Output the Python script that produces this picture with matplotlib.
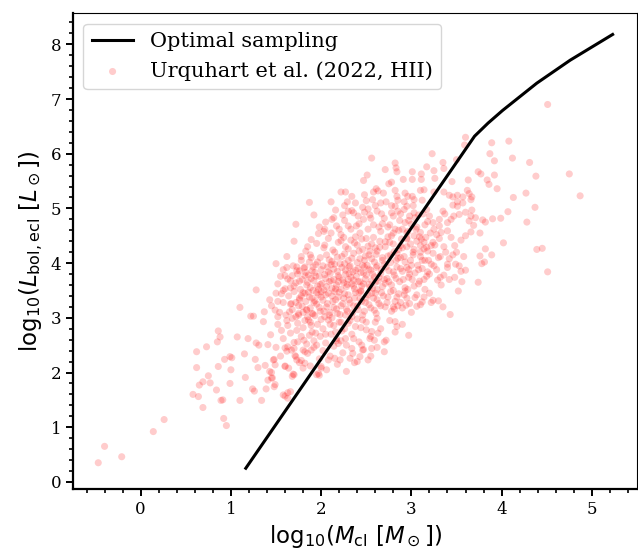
import numpy as np
import matplotlib
matplotlib.use("Agg")
import matplotlib.pyplot as plt
from matplotlib.ticker import MultipleLocator

plt.rcParams['font.family'] = 'serif'
plt.rcParams['mathtext.fontset'] = 'dejavusans'

# Optimal sampling relation
opt_m = [1.165, 3.70, 3.85, 4.01, 4.39, 4.76, 5.23]
opt_l = [0.25, 6.32, 6.56, 6.79, 7.29, 7.71, 8.18]

# Urquhart et al. (2022) HII clumps: (log M_cl, log L_bol)
urquhart_pts = [
    # sparse low-mass tail
    (-0.47, 0.35), (-0.40, 0.65), (-0.21, 0.46), (0.14, 0.92), (0.26, 1.14),
    (0.58, 1.60), (0.64, 1.56), (0.62, 2.38), (0.62, 2.09), (0.65, 1.77), (0.69, 1.83),
    (0.69, 1.36), (0.73, 2.47), (0.75, 1.94), (0.77, 1.81), (0.84, 1.68), (0.86, 2.11),
    (0.86, 2.76), (0.88, 2.65), (0.85, 2.56), (0.89, 1.49), (0.91, 1.50), (0.92, 1.16),
    (0.95, 1.03), (0.93, 2.24), (0.99, 2.29), (1.01, 2.27), (1.00, 2.05), (0.99, 1.80),
    (1.07, 2.65), (1.10, 3.19), (1.10, 1.49), (1.15, 2.34), (1.16, 1.91), (1.19, 2.62),
    (1.22, 3.03), (1.25, 3.03), (1.24, 1.70), (1.26, 1.66), (1.27, 2.24), (1.28, 3.51),
    (1.28, 2.54), (1.30, 2.09), (1.31, 2.50), (1.34, 1.49), (1.36, 2.93), (1.37, 3.11),
    (1.38, 2.13), (1.41, 2.51), (1.41, 1.86), (1.43, 3.33), (1.44, 2.69), (1.45, 2.00),
    (1.46, 1.90), (1.39, 1.70), (1.48, 1.74), (1.49, 3.14), (1.50, 2.46), (1.48, 2.24),
    (1.52, 3.30), (1.52, 3.02), (1.58, 1.59), (1.60, 2.12), (1.63, 1.53), (1.66, 1.65),
    (1.69, 1.97), (1.62, 2.39), (1.56, 2.77), (1.56, 3.44), (1.60, 3.53), (1.63, 2.86),
    (1.65, 3.11), (1.67, 3.26), (1.71, 2.31), (1.73, 2.77), (1.74, 2.56), (1.75, 3.08),
    (1.76, 3.36), (1.78, 2.22), (1.81, 2.59), (1.82, 2.95), (1.84, 3.14), (1.85, 2.35),
    (1.87, 2.68), (1.89, 2.86), (1.91, 3.07), (1.93, 3.31), (1.95, 2.50), (1.97, 1.98),
    (1.47, 2.23), (1.49, 2.14), (1.43, 2.02), (1.45, 1.90), (1.49, 1.78), (1.60, 2.11),
    (1.70, 1.96), (1.68, 1.93), (1.60, 1.57), (1.63, 1.63), (1.72, 2.29), (1.73, 2.23),
    (1.67, 2.41), (1.63, 2.47), (1.80, 2.08), (1.82, 2.17), (1.95, 1.96), (1.80, 2.41),
    (1.89, 2.41),
    # upper-left edge
    (1.87, 5.11), (1.92, 4.88), (1.72, 4.71), (1.89, 4.43), (1.85, 4.30), (1.50, 3.99),
    (1.73, 3.93), (1.76, 3.86), (1.82, 3.93), (1.89, 4.10), (1.91, 3.93), (1.97, 4.54),
    (1.60, 3.77), (1.68, 3.77), (1.82, 3.77),
    # upper part
    (2.56, 5.92), (2.71, 5.71), (2.51, 5.61), (2.47, 5.51), (2.61, 5.36), (2.63, 5.32),
    (2.22, 5.30), (2.27, 5.30), (2.48, 5.25), (2.69, 5.28), (2.29, 5.12), (2.38, 5.10),
    (2.11, 5.12), (2.50, 5.14), (2.57, 5.16), (2.30, 4.95), (2.34, 4.96), (2.48, 4.93),
    (2.17, 4.68), (2.39, 4.68), (2.47, 4.80), (2.54, 4.88), (2.04, 4.62), (2.03, 4.58),
    (2.11, 4.55), (2.22, 4.52), (2.75, 5.45), (2.85, 5.15), (2.78, 5.05), (2.66, 5.10),
    # y 4.5 - 5.0
    (2.05, 4.75), (2.14, 4.83), (2.26, 4.78), (2.33, 4.62), (2.41, 4.86), (2.58, 4.70),
    (2.62, 4.95), (2.66, 4.58), (2.70, 4.82), (2.74, 4.66), (2.78, 4.92), (2.80, 4.55),
    (2.87, 4.78), (2.92, 4.98), (3.06, 4.66), (3.13, 4.90), (3.28, 4.52), (3.37, 4.90),
    (2.16, 4.97), (2.43, 4.55), (2.52, 4.99), (2.68, 4.72), (2.96, 4.58), (1.98, 4.66),
    (2.24, 4.88),
    (2.30, 4.68), (2.36, 4.92), (2.42, 4.72), (2.46, 5.02), (2.52, 4.62), (2.55, 4.82),
    (2.60, 5.05), (2.64, 4.66), (2.67, 4.90), (2.72, 5.12), (2.76, 4.70), (2.80, 4.86),
    (2.84, 5.22), (2.88, 4.90), (2.92, 5.12), (2.97, 4.78), (3.02, 5.05), (3.08, 4.88),
    (3.12, 5.15), (3.18, 4.76), (2.20, 4.62), (2.12, 4.80), (2.26, 5.05), (2.34, 5.22),
    (2.58, 5.30),
    # y 4.0 - 4.5
    (1.62, 4.12), (1.70, 4.40), (1.78, 4.05), (1.83, 4.22), (1.95, 4.36), (1.99, 4.10),
    (2.03, 4.28), (2.08, 4.45), (2.12, 4.03), (2.15, 4.20), (2.19, 4.38), (2.23, 4.12),
    (2.27, 4.30), (2.30, 4.05), (2.33, 4.42), (2.36, 4.18), (2.40, 4.33), (2.43, 4.08),
    (2.46, 4.25), (2.50, 4.45), (2.53, 4.15), (2.56, 4.35), (2.59, 4.02), (2.62, 4.22),
    (2.65, 4.40), (2.68, 4.10), (2.71, 4.30), (2.74, 4.48), (2.77, 4.15), (2.80, 4.35),
    (2.83, 4.05), (2.86, 4.25), (2.89, 4.44), (2.92, 4.12), (2.95, 4.30), (2.99, 4.05),
    (3.02, 4.20), (3.06, 4.40), (3.10, 4.12), (3.14, 4.26), (3.19, 4.05), (3.24, 4.18),
    (3.30, 4.10), (3.36, 4.30), (3.42, 4.08), (3.50, 4.20), (3.58, 4.12), (2.06, 4.15),
    (2.25, 4.47), (2.48, 4.05), (2.60, 4.28), (2.76, 4.38), (2.95, 4.46), (3.16, 4.47),
    (1.88, 4.15), (2.38, 4.48), (2.54, 4.22), (2.84, 4.18),
    # y 3.5 - 4.5, second layer of the dense core
    (1.93, 3.83), (1.96, 4.02), (1.99, 3.61), (2.02, 3.95), (2.04, 4.33), (2.06, 3.57),
    (2.08, 3.84), (2.09, 4.06), (2.11, 3.68), (2.13, 4.24), (2.14, 3.89), (2.16, 3.53),
    (2.18, 4.11), (2.19, 3.77), (2.21, 3.99), (2.22, 4.41), (2.24, 3.69), (2.26, 4.17),
    (2.27, 3.87), (2.29, 3.61), (2.30, 4.26), (2.31, 3.93), (2.33, 3.74), (2.34, 4.09),
    (2.36, 3.58), (2.37, 4.37), (2.38, 3.87), (2.40, 4.01), (2.41, 3.66), (2.42, 4.22),
    (2.44, 3.83), (2.45, 4.44), (2.46, 3.96), (2.47, 3.62), (2.49, 4.13), (2.50, 3.78),
    (2.52, 4.31), (2.53, 3.89), (2.54, 3.56), (2.56, 4.08), (2.57, 3.80), (2.58, 4.47),
    (2.60, 3.65), (2.61, 4.16), (2.62, 3.95), (2.64, 3.74), (2.65, 4.29), (2.67, 3.88),
    (2.68, 4.05), (2.70, 3.70), (2.71, 4.39), (2.72, 3.93), (2.74, 4.13), (2.75, 3.66),
    (2.77, 4.01), (2.78, 4.50), (2.80, 3.84), (2.81, 4.21), (2.83, 3.72), (2.85, 4.09),
    (2.86, 4.60), (2.88, 3.90), (2.90, 4.28), (2.91, 3.70), (2.93, 4.02), (2.95, 4.55),
    (2.97, 3.88), (2.99, 4.35), (3.01, 3.70), (3.03, 4.25), (3.05, 4.62), (3.07, 3.96),
    (3.09, 4.48), (3.12, 4.05), (3.15, 4.70), (3.18, 4.22), (3.21, 4.55), (3.26, 4.33),
    (3.31, 4.45), (3.38, 4.20),
    (1.70, 3.58), (1.73, 3.86), (1.76, 3.67), (1.78, 4.12), (1.80, 3.46), (1.83, 3.83),
    (1.85, 3.65), (1.87, 4.02), (1.89, 3.72), (1.91, 3.50), (1.94, 3.76), (1.58, 3.50),
    (1.62, 3.92), (1.66, 3.68), (1.55, 3.76),
    # y 3.5 - 4.0 (densest)
    (1.52, 3.62), (1.58, 3.88), (1.63, 3.71), (1.66, 3.55), (1.69, 3.95), (1.72, 3.64),
    (1.74, 3.80), (1.77, 3.52), (1.79, 3.70), (1.81, 3.91), (1.84, 3.60), (1.86, 3.78),
    (1.88, 3.55), (1.90, 3.86), (1.92, 3.68), (1.94, 3.97), (1.96, 3.58), (1.98, 3.76),
    (2.00, 3.88), (2.01, 3.63), (2.03, 3.51), (2.05, 3.72), (2.07, 3.93), (2.09, 3.66),
    (2.10, 3.81), (2.12, 3.54), (2.14, 3.70), (2.15, 3.98), (2.17, 3.60), (2.18, 3.85),
    (2.20, 3.74), (2.22, 3.52), (2.23, 3.92), (2.25, 3.64), (2.27, 3.80), (2.28, 3.57),
    (2.30, 3.70), (2.32, 3.95), (2.34, 3.62), (2.35, 3.84), (2.37, 3.53), (2.39, 3.76),
    (2.41, 3.90), (2.43, 3.66), (2.45, 3.58), (2.47, 3.82), (2.49, 3.71), (2.51, 3.96),
    (2.53, 3.61), (2.55, 3.87), (2.57, 3.54), (2.59, 3.75), (2.61, 3.92), (2.63, 3.67),
    (2.66, 3.81), (2.68, 3.57), (2.70, 3.98), (2.73, 3.72), (2.75, 3.86), (2.78, 3.60),
    (2.81, 3.78), (2.84, 3.93), (2.87, 3.66), (2.90, 3.85), (2.93, 3.55), (2.97, 3.74),
    (3.00, 3.96), (3.04, 3.82), (3.08, 3.62), (3.12, 3.90), (3.18, 3.84), (3.22, 3.98),
    (3.28, 3.88), (3.40, 3.92), (3.55, 3.85), (1.97, 3.52), (2.11, 3.97), (2.26, 3.99),
    (2.44, 3.50), (2.62, 3.52), (2.80, 3.50), (2.19, 3.66), (2.36, 3.69), (2.56, 3.68),
    (2.04, 3.79), (2.31, 3.81), (2.48, 3.93), (2.71, 3.63),
    # y 3.0 - 3.5
    (1.45, 3.22), (1.50, 3.45), (1.54, 3.10), (1.58, 3.28), (1.61, 3.05), (1.64, 3.40),
    (1.68, 3.15), (1.70, 3.48), (1.72, 3.02), (1.75, 3.22), (1.78, 3.40), (1.80, 3.10),
    (1.83, 3.30), (1.86, 3.47), (1.88, 3.18), (1.90, 3.36), (1.93, 3.04), (1.95, 3.25),
    (1.97, 3.42), (1.99, 3.12), (2.02, 3.32), (2.04, 3.02), (2.06, 3.20), (2.08, 3.45),
    (2.10, 3.10), (2.13, 3.30), (2.15, 3.48), (2.17, 3.16), (2.19, 3.38), (2.21, 3.06),
    (2.24, 3.26), (2.26, 3.44), (2.29, 3.12), (2.31, 3.33), (2.34, 3.02), (2.36, 3.22),
    (2.38, 3.46), (2.41, 3.15), (2.43, 3.35), (2.46, 3.05), (2.49, 3.28), (2.52, 3.42),
    (2.55, 3.18), (2.58, 3.36), (2.61, 3.08), (2.64, 3.26), (2.67, 3.46), (2.71, 3.20),
    (2.74, 3.38), (2.78, 3.12), (2.82, 3.30), (2.86, 3.44), (2.90, 3.18), (2.95, 3.36),
    (3.00, 3.10), (3.06, 3.42), (3.14, 3.38), (3.20, 3.45), (3.35, 3.20), (1.85, 3.02),
    (2.00, 3.48), (2.12, 3.00), (2.27, 3.05), (2.44, 3.48), (2.60, 3.45), (1.66, 3.25),
    (1.76, 3.33),
    (1.72, 3.28), (1.75, 3.05), (1.79, 3.21), (1.82, 3.45), (1.84, 3.15), (1.87, 3.38),
    (1.90, 3.08), (1.92, 3.28), (1.95, 3.46), (1.98, 3.19), (2.00, 3.38), (2.03, 3.12),
    (2.05, 3.42), (2.07, 3.26), (2.09, 3.05), (2.12, 3.40), (2.14, 3.19), (2.16, 3.33),
    (2.18, 3.08), (2.20, 3.47), (2.22, 3.22), (2.25, 3.36), (2.28, 3.16), (2.30, 3.42),
    (2.32, 3.27), (2.35, 3.10), (2.37, 3.36), (2.40, 3.22), (2.42, 3.46), (2.45, 3.30),
    (2.48, 3.12), (2.50, 3.36), (2.53, 3.24), (2.56, 3.45), (2.59, 3.14), (2.62, 3.33),
    (2.66, 3.22), (2.69, 3.40), (2.73, 3.28), (2.77, 3.48), (2.80, 3.20), (2.84, 3.38),
    (2.88, 3.28), (2.92, 3.42), (2.98, 3.26),
    # y 2.5 - 3.0
    (1.52, 2.88), (1.58, 2.62), (1.62, 2.95), (1.66, 2.72), (1.70, 2.55), (1.74, 2.90),
    (1.78, 2.66), (1.80, 2.82), (1.84, 2.52), (1.86, 2.96), (1.90, 2.74), (1.92, 2.58),
    (1.96, 2.88), (1.99, 2.66), (2.02, 2.80), (2.05, 2.54), (2.08, 2.96), (2.11, 2.70),
    (2.14, 2.86), (2.17, 2.58), (2.20, 2.92), (2.23, 2.76), (2.27, 2.62), (2.30, 2.90),
    (2.34, 2.70), (2.38, 2.84), (2.42, 2.56), (2.46, 2.96), (2.50, 2.78), (2.55, 2.66),
    (2.60, 2.92), (2.66, 2.80), (2.70, 2.56), (2.76, 2.95), (2.82, 2.74), (2.90, 2.88),
    (2.97, 2.68), (1.68, 2.99), (2.40, 2.98), (2.62, 2.99),
    (2.05, 2.70), (2.10, 2.88), (2.16, 2.74), (2.22, 2.92), (2.26, 2.80), (2.32, 2.95),
    (2.36, 2.62), (2.44, 2.82), (2.50, 2.92), (2.56, 2.75), (1.94, 2.72), (1.88, 2.92),
    (2.00, 2.97), (2.28, 2.50),
    # y 2.0 - 2.5
    (1.55, 2.30), (1.64, 2.08), (1.70, 2.44), (1.76, 2.18), (1.82, 2.38), (1.88, 2.12),
    (1.92, 2.46), (1.98, 2.25), (2.02, 2.40), (2.06, 2.05), (2.10, 2.30), (2.14, 2.48),
    (2.18, 2.15), (2.24, 2.36), (2.28, 2.02), (2.34, 2.44), (2.40, 2.20), (2.47, 2.42),
    (2.55, 2.30), (2.62, 2.46), (2.70, 2.38), (1.60, 2.45), (2.00, 2.08),
    (2.72, 2.59), (2.59, 2.59), (2.63, 2.72), (2.52, 2.23), (2.37, 2.18), (2.43, 2.29),
    (2.35, 2.35), (2.32, 2.26), (2.19, 2.53), (2.22, 2.58), (2.17, 2.62), (2.21, 2.23),
    (2.15, 2.26), (2.08, 2.23), (2.00, 2.11), (1.98, 1.95), (2.46, 2.41), (2.45, 2.50),
    (2.54, 2.62), (2.56, 2.44),
    # right of the line, lower part
    (3.76, 4.13), (3.81, 4.02), (3.78, 3.99), (3.89, 4.15), (3.60, 3.87), (3.53, 3.95),
    (3.49, 3.98), (3.74, 3.65), (3.52, 3.49), (3.43, 3.06), (3.30, 3.31), (3.24, 3.32),
    (3.22, 3.28), (3.12, 3.29), (3.06, 3.21), (3.10, 3.24), (3.15, 3.52), (3.04, 3.37),
    (2.94, 3.23), (2.85, 3.22), (2.81, 3.16), (2.84, 2.84), (2.82, 2.93), (3.56, 3.66),
    (3.48, 3.74), (3.42, 3.70), (3.33, 3.60), (3.29, 3.69), (3.36, 3.78), (3.32, 3.74),
    (3.17, 3.76), (3.14, 3.70), (3.09, 3.67), (3.03, 3.58), (2.96, 3.52), (2.93, 3.49),
    (2.88, 4.10), (2.95, 3.92), (3.02, 4.15), (3.08, 3.88), (3.15, 4.05), (3.25, 3.95),
    (3.32, 4.12), (3.40, 3.98), (3.46, 4.15), (3.20, 3.80), (2.98, 3.80), (3.10, 4.20),
    # upper right
    (3.60, 6.30), (3.59, 6.16), (3.89, 6.20), (4.08, 6.23), (3.87, 6.00), (3.92, 5.87),
    (4.13, 5.20), (3.23, 6.00), (2.82, 5.83), (2.83, 5.74), (2.84, 5.67), (3.01, 5.67),
    (3.17, 5.76), (3.35, 5.84), (3.36, 5.73), (2.91, 5.53), (3.01, 5.53), (3.11, 5.63),
    (3.11, 5.53), (3.25, 5.69), (3.26, 5.55), (3.45, 5.49), (3.63, 5.52), (3.74, 5.67),
    (3.77, 5.63), (3.84, 5.52), (3.86, 5.44), (3.95, 5.36), (3.92, 5.61), (2.78, 5.48),
    (2.82, 5.33), (2.93, 5.28), (2.96, 5.22), (3.01, 5.22), (3.03, 5.16), (3.10, 5.33),
    (3.14, 5.34), (3.25, 5.30), (3.36, 5.30), (3.42, 5.24), (3.46, 5.21), (3.51, 5.24),
    (3.57, 5.21), (3.62, 5.33), (3.64, 5.27), (3.67, 5.21), (3.51, 5.12), (3.57, 5.10),
    (3.66, 5.16), (3.46, 5.06), (3.51, 5.04), (3.67, 4.97), (3.60, 4.93), (3.66, 4.86),
    (3.71, 4.83), (3.64, 4.77), (3.69, 4.69), (3.79, 4.79), (3.82, 4.75), (3.90, 4.81),
    (3.99, 4.82), (4.07, 4.94), (4.02, 4.37), (3.82, 4.26), (3.76, 4.55), (3.66, 4.57),
    (3.60, 4.50), (3.55, 4.42), (3.44, 4.47), (3.48, 4.32), (3.33, 4.56), (3.40, 4.59),
    (3.25, 4.62), (3.31, 4.68), (3.20, 4.86), (3.24, 4.74), (3.17, 4.98), (3.24, 4.38),
    (3.22, 4.32), (3.10, 4.56), (3.11, 4.44), (3.04, 4.83), (3.00, 4.71), (2.93, 4.74),
    (2.90, 4.62), (2.82, 5.04), (2.85, 4.95), (2.95, 5.04), (3.03, 4.92), (2.98, 4.86),
    (2.82, 4.62), (3.10, 4.32), (3.14, 4.38), (3.17, 4.29), (3.03, 4.50), (2.95, 4.44),
    (2.88, 4.32), (3.31, 4.80), (3.44, 4.80), (3.40, 4.74), (3.35, 4.95), (3.47, 4.86),
    (3.53, 4.89), (3.50, 5.89), (4.12, 5.92),
    # far right outliers
    (4.51, 3.84), (4.45, 4.27), (4.39, 4.25), (4.28, 4.75), (4.37, 5.02), (4.27, 5.28),
    (4.38, 5.59), (4.31, 5.84), (4.75, 5.63), (4.87, 5.23), (4.51, 6.90),
]
m_cl, l_bol = np.array(urquhart_pts).T

fig = plt.figure(figsize=(6.38, 5.54), dpi=100)
ax = fig.add_axes([0.1144, 0.1173, 0.884, 0.859])

ax.plot(opt_m, opt_l, color='black', lw=2.2, label='Optimal sampling', zorder=3)
ax.scatter(m_cl, l_bol, s=26, color='red', alpha=0.2, edgecolors='none',
           label='Urquhart et al. (2022, HII)')

ax.set_xlim(-0.75, 5.5)
ax.set_ylim(-0.13, 8.57)
ax.xaxis.set_major_locator(MultipleLocator(1))
ax.xaxis.set_minor_locator(MultipleLocator(0.2))
ax.yaxis.set_major_locator(MultipleLocator(1))
ax.yaxis.set_minor_locator(MultipleLocator(0.2))
ax.tick_params(which='major', direction='out', length=5, width=1.4, labelsize=12)
ax.tick_params(which='minor', direction='out', length=3, width=1.2)
for side in ['left', 'bottom']:
    ax.spines[side].set_linewidth(1.6)
for side in ['top', 'right']:
    ax.spines[side].set_linewidth(0.8)

ax.set_xlabel(r'$\mathrm{log}_{10}(M_\mathrm{cl}\ [M_\odot])$', fontsize=16.5)
ax.set_ylabel(r'$\mathrm{log}_{10}(L_\mathrm{bol,ecl}\ [L_\odot])$', fontsize=16.5)
ax.legend(loc='upper left', fontsize=15, scatterpoints=1)

fig.savefig('out.png', dpi=100)
